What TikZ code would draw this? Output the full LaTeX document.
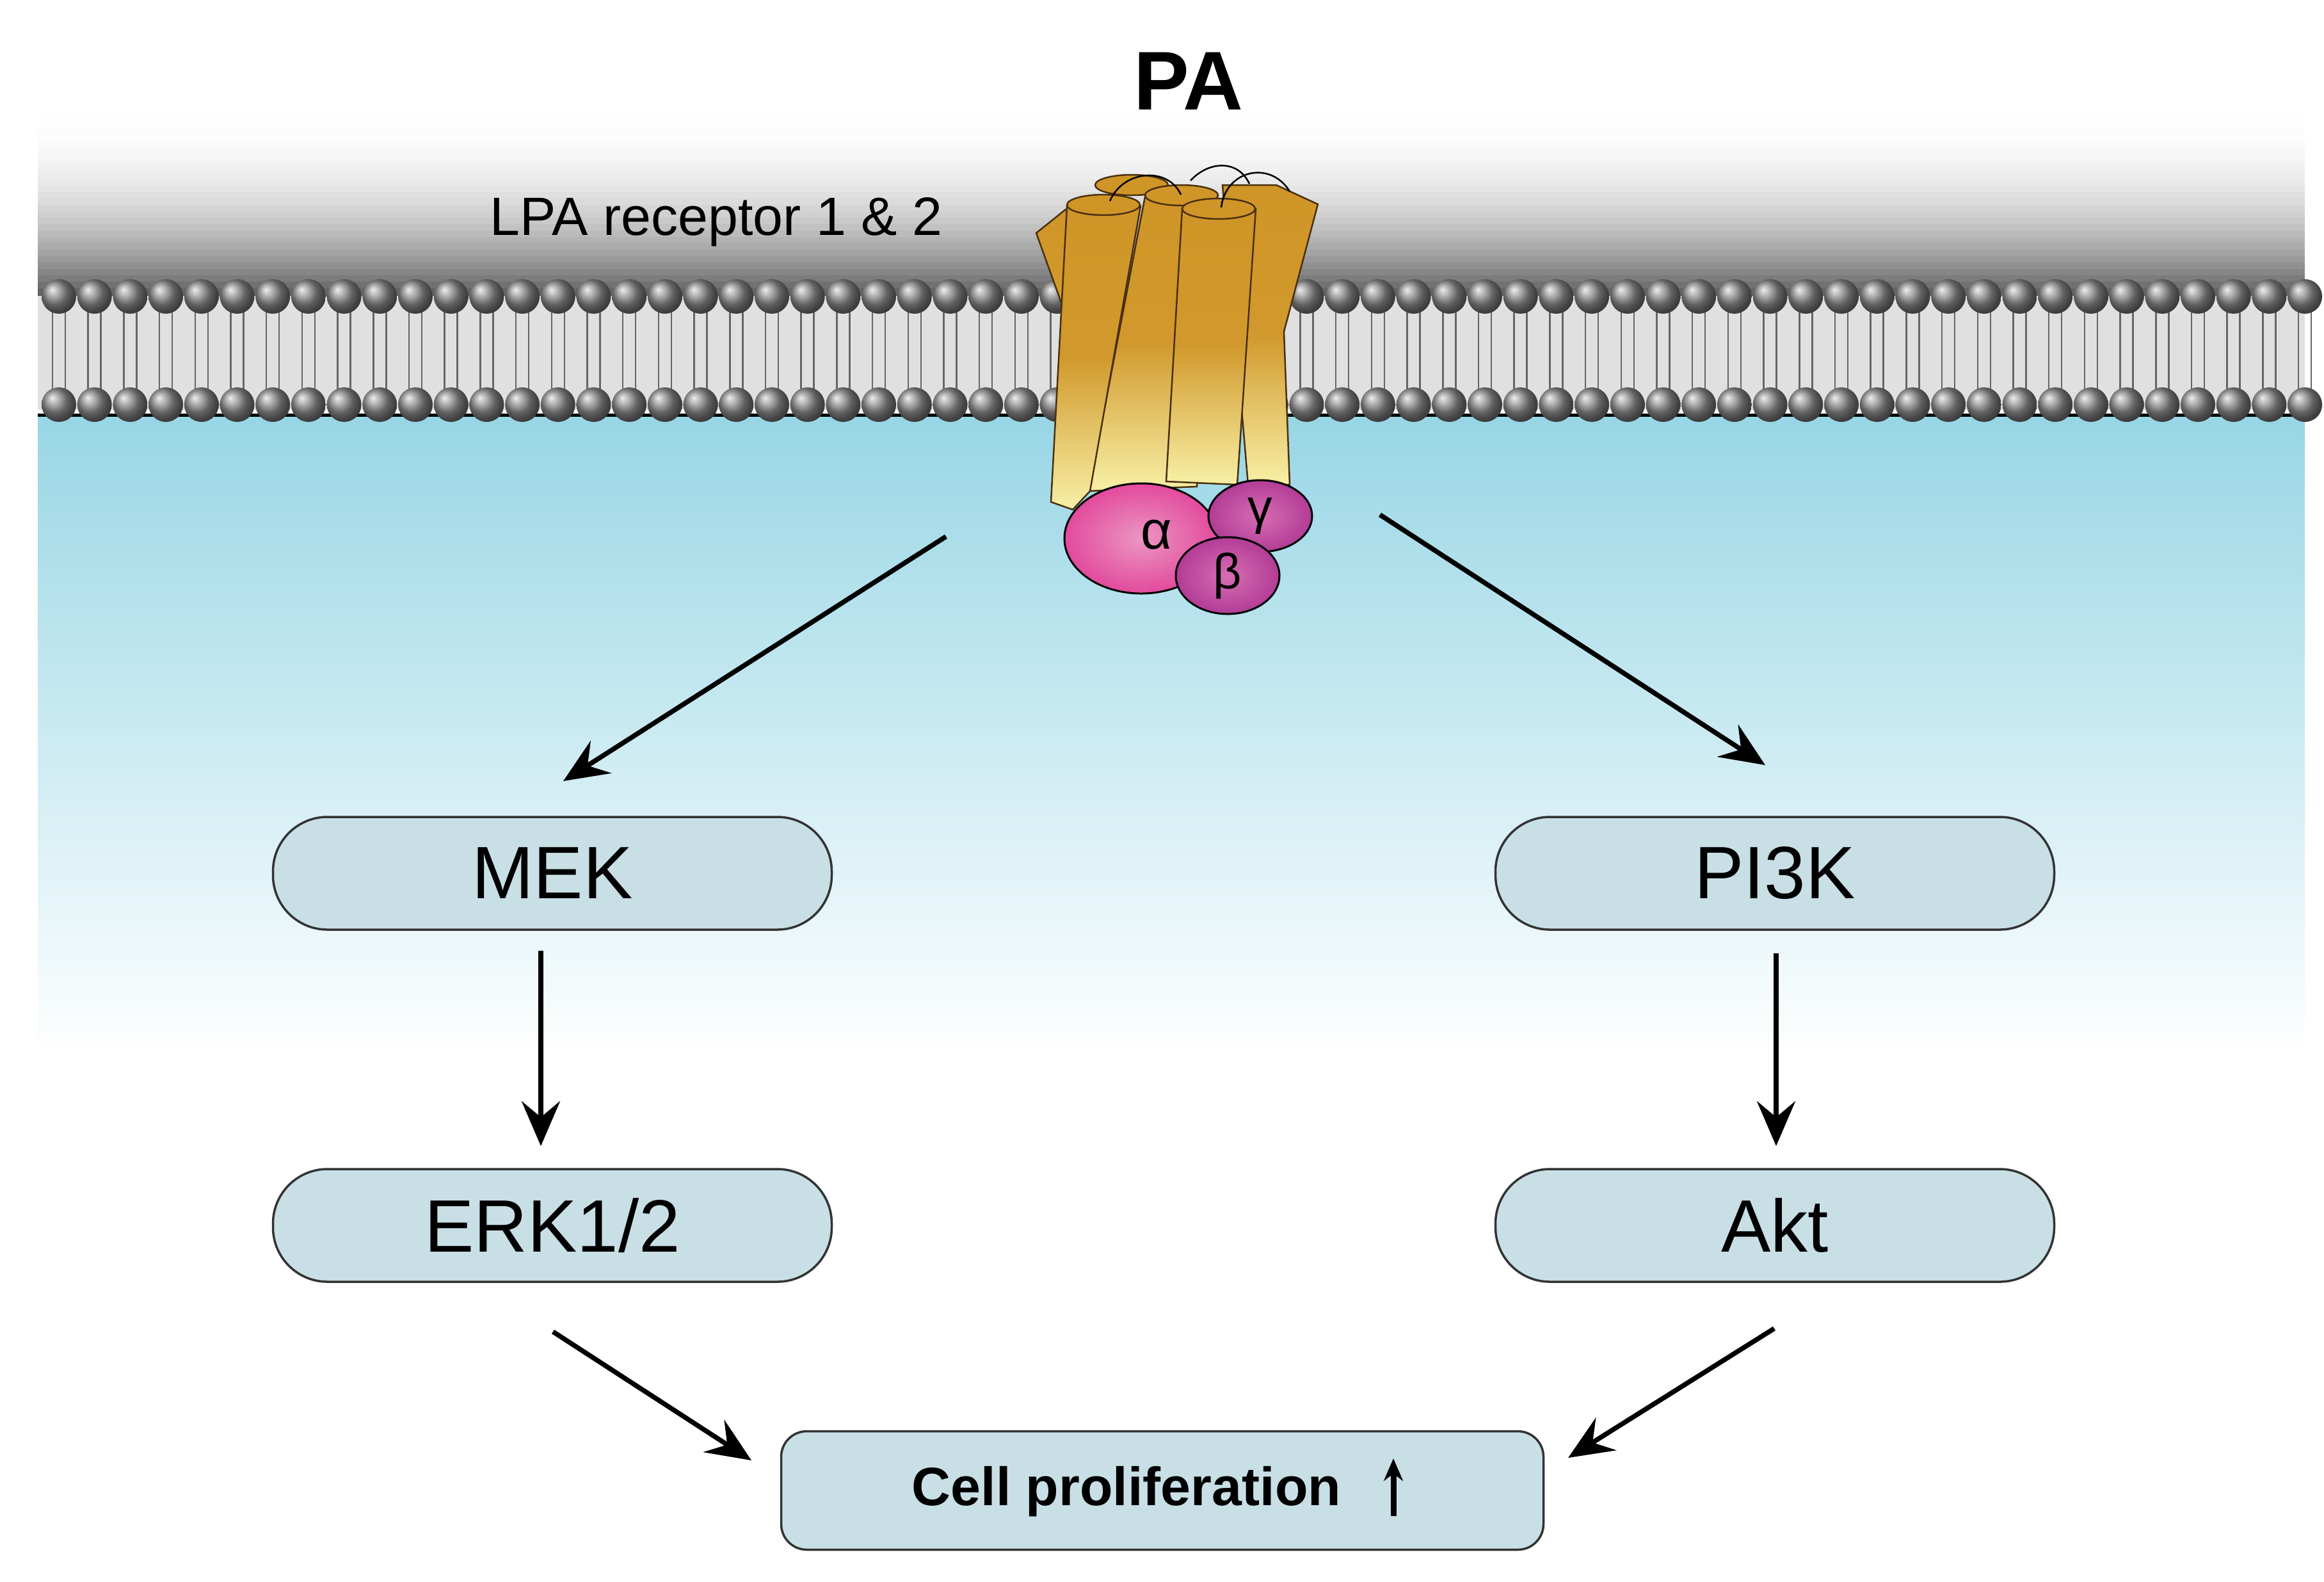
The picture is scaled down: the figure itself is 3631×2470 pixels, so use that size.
\documentclass[tikz,border=0pt]{standalone}
\usepackage{fontspec}
\setmainfont{Liberation Sans}
\usetikzlibrary{arrows.meta,shapes.geometric}
\definecolor{boxfill}{HTML}{C9DFE6}
\definecolor{gold}{HTML}{CF9527}
\definecolor{pale}{HTML}{F8F0A6}
\definecolor{brn}{HTML}{4A3010}
\tikzset{
  box/.style={draw=black!80,line width=0.35mm,fill=boxfill,rounded corners=8.5mm,minimum width=87.3mm,minimum height=17.6mm,font=\fontsize{33}{37}\selectfont},
  arr/.style={line width=0.75mm,-{Stealth[length=7mm,width=6mm,inset=2.5mm]}},
  helix/.style={draw=brn,line width=0.25mm,top color=gold,bottom color=pale,middle color=gold!95!pale},
  hcap/.style={draw=brn,line width=0.25mm,fill=gold},
  hloop/.style={draw=black,line width=0.25mm},
  sub/.style={draw=black,line width=0.3mm,ellipse,inner sep=0pt,font=\fontsize{22}{26}\selectfont}
}
\begin{document}
\begin{tikzpicture}[x=0.1mm,y=-0.1mm]
\useasboundingbox (0,0) rectangle (3631,2470);
\fill[white] (0,0) rectangle (3631,2470);
% backgrounds
\foreach \i in {0,...,30}{
  \pgfmathsetmacro\pp{65*(\i/30)^2.2}
  \fill[black!\pp] (59,160+10*\i) rectangle (3601,171+10*\i);
}
\fill[black!12] (59,462) rectangle (3601,640);
\shade[top color={rgb,255:red,152;green,214;blue,229},bottom color=white] (59,650) rectangle (3601,1650);
\draw[line width=0.5mm] (59,648) -- (3601,648);
% lipids
\foreach \i in {0,...,63}{
  \pgfmathsetmacro\xx{92+55.7*\i}
  \draw[black!60,line width=0.25mm] (\xx-10,470) -- (\xx-10,625) (\xx+10,470) -- (\xx+10,625);
  \shade[ball color=black!45] (\xx,463) circle (27);
  \shade[ball color=black!45] (\xx,632) circle (27);
}
% receptor
\path[helix] (1619,364) -- (1665,327) -- (1700,327) -- (1700,600) -- (1660,478) -- cycle;
\path[helix] (1910,289) -- (1994,289) -- (2059,319) -- (2006,518) -- (2015,757) -- (1950,757) -- cycle;
\path[hcap] (1768,289) ellipse (57 and 16);
\path[helix] (1789,307) -- (1902,307) -- (1870,760) -- (1701,767) -- cycle;
\path[hcap] (1846,305) ellipse (57 and 16);
\path[helix] (1667,322) -- (1782,322) -- (1703,767) -- (1676,796) -- (1642,784) -- cycle;
\path[hcap] (1724,320) ellipse (57 and 16);
\path[helix] (1847,326) -- (1962,326) -- (1933,757) -- (1822,752) -- cycle;
\path[hcap] (1904,326) ellipse (57 and 16);
\draw[hloop] (1734,314) .. controls (1755,265) and (1825,260) .. (1845,304);
\draw[hloop] (1860,282) .. controls (1890,250) and (1935,250) .. (1952,287);
\draw[hloop] (1908,324) .. controls (1915,265) and (1985,250) .. (2015,299);
\node[sub,minimum width=24mm,minimum height=17.2mm,inner color={rgb,255:red,236;green,150;blue,196},outer color={rgb,255:red,226;green,74;blue,156}] (alpha) at (1783,841) {};
\node[font=\fontsize{24}{28}\selectfont] (alphat) at (1807,835) {α};
\node[sub,minimum width=16.2mm,minimum height=11.2mm,inner color={rgb,255:red,214;green,110;blue,178},outer color={rgb,255:red,178;green,60;blue,150}] (gamma) at (1969,806) {γ};
\node[sub,minimum width=16.2mm,minimum height=12mm,inner color={rgb,255:red,214;green,110;blue,178},outer color={rgb,255:red,178;green,60;blue,150}] (beta) at (1918,899) {β};
% texts
\node[font=\bfseries\fontsize{37}{42}\selectfont] (pa) at (1857,127) {PA};
\node[font=\fontsize{24}{28}\selectfont] (lpa) at (1119,347) {LPA receptor 1 \& 2};
% boxes
\node[box] (mek) at (863,1364) {MEK};
\node[box] (pi3k) at (2773,1364) {PI3K};
\node[box] (erk) at (863,1914) {ERK1/2};
\node[box] (akt) at (2773,1914) {Akt};
\node[box,rounded corners=4mm,minimum width=119.1mm,minimum height=18.5mm] (cell) at (1816,2328) {};
\node[font=\bfseries\fontsize{24}{28}\selectfont] (celltxt) at (1760,2330) {Cell proliferation};
\coordinate (upA) at (2177,2368);
\coordinate (upB) at (2177,2278);
\draw[line width=0.9mm,-{Stealth[length=3.5mm,width=3mm]}] (upA) -- (upB);
% arrows
\coordinate (s1) at (1478,838); \coordinate (e1) at (880,1220);
\coordinate (s2) at (2156,804); \coordinate (e2) at (2758,1195);
\coordinate (s3) at (845,1485); \coordinate (e3) at (845,1790);
\coordinate (s4) at (2775,1489); \coordinate (e4) at (2775,1790);
\coordinate (s5) at (864,2080); \coordinate (e5) at (1174,2281);
\coordinate (s6) at (2772,2075); \coordinate (e6) at (2450,2277);
\draw[arr] (s1) -- (e1);
\draw[arr] (s2) -- (e2);
\draw[arr] (s3) -- (e3);
\draw[arr] (s4) -- (e4);
\draw[arr] (s5) -- (e5);
\draw[arr] (s6) -- (e6);
\end{tikzpicture}
\end{document}
